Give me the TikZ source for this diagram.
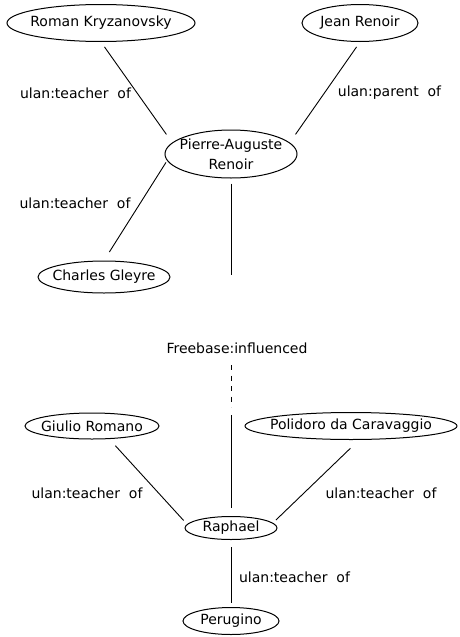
\documentclass[tikz,border=0pt]{standalone}
\usepackage{fontspec}
\setmainfont{DejaVu Sans}
\usetikzlibrary{shapes.geometric}

\tikzset{
	person/.style={draw, ellipse, inner sep=0pt, line width=1pt},
	relation/.style={inner sep=0pt},
	link/.style={line width=0.9pt}
}

\begin{document}
\begin{tikzpicture}[x=1pt,y=-1pt,font=\fontsize{14}{20}\selectfont]
				  \useasboundingbox (0,0) rectangle (459,637);
				  %PERSONS
				  \node[person, minimum width=188pt, minimum height=37pt, label=center:Roman Kryzanovsky] (roman) at (101,23) {};
				  \node[person, minimum width=116pt, minimum height=37pt, label=center:Jean Renoir] (jean) at (360,23) {};
				  \node[person, minimum width=132pt, minimum height=48pt, label={[align=center]center:Pierre-Auguste\\Renoir}] (pierre) at (231,154) {};
				  \node[person, minimum width=132pt, minimum height=32pt, label=center:Charles Gleyre] (charles) at (104,277) {};
				  \node[person, minimum width=134pt, minimum height=26pt, label=center:Giulio Romano] (giulio) at (92,426) {};
				  \node[person, minimum width=212pt, minimum height=27pt, label=center:Polidoro da Caravaggio] (polidoro) at (351,426) {};
				  \node[person, minimum width=92pt, minimum height=23pt, label=center:Raphael] (raphael) at (231,528) {};
				  \node[person, minimum width=96pt, minimum height=27pt, label=center:Perugino] (perugino) at (231,621) {};

				  %UPPER FAMILY
				  \draw[link, shorten <=6pt, shorten >=10pt] (roman.south) -- (pierre.169);
				  \draw[link, shorten <=6pt, shorten >=10pt] (jean.south) -- (pierre.11);
				  \draw[link, shorten <=10pt, shorten >=2pt] (charles.north) -- (pierre.186);
				  \node[relation] (teachA) at (75.5,93) {ulan:teacher~ of};
				  \node[relation] (parentA) at (389.5,93) {ulan:parent~ of};
				  \node[relation] (teachB) at (75,203) {ulan:teacher~ of};

				  %INFLUENCE (broken line)
				  \coordinate (cutA) at (231,275);
				  \coordinate (cutB) at (231,365);
				  \coordinate (cutC) at (231,407);
				  \coordinate (cutD) at (231,415);
				  \draw[link, shorten <=5pt] (pierre.south) -- (cutA);
				  \draw[link, dash pattern=on 5pt off 5.5pt] (cutB) -- (cutC);
				  \draw[link, shorten >=8pt] (cutD) -- (raphael.north);
				  \node[relation] (influence) at (237,348) {Freebase:influenced};

				  %LOWER FAMILY
				  \draw[link, shorten <=9pt, shorten >=5pt] (giulio.-37) -- (raphael.175);
				  \draw[link, shorten <=12pt, shorten >=4pt] (polidoro.-60) -- (raphael.7);
				  \draw[link, shorten <=7pt, shorten >=4pt] (raphael.south) -- (perugino.north);
				  \node[relation] (teachC) at (87,493) {ulan:teacher~ of};
				  \node[relation] (teachD) at (381,493) {ulan:teacher~ of};
				  \node[relation] (teachE) at (294.5,577) {ulan:teacher~ of};
\end{tikzpicture}
\end{document}
